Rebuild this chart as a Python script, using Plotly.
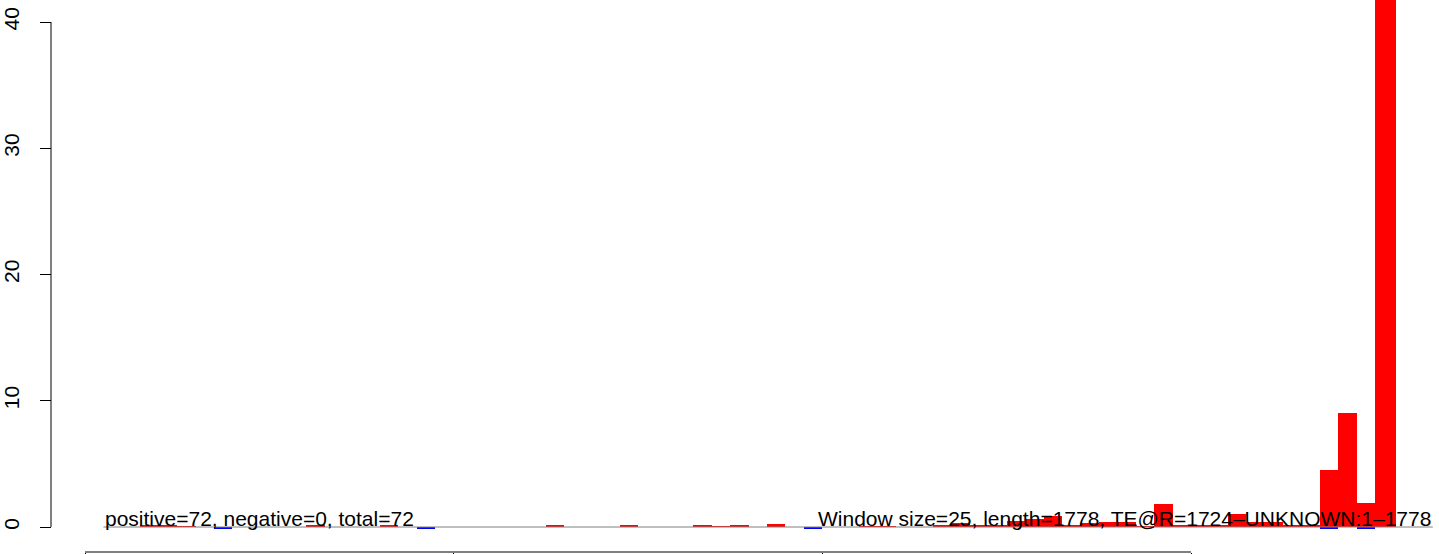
import plotly.graph_objects as go

# ---- data ----
window_size = 25
seq_length = 1778
# positive (red) window scores, one per window (71 windows)
positive = [0, 0, 0, 0.1, 0.1, 0.05, 0, 0, 0, 0,
            0, 0, 0.08, 0, 0, 0, 0.12, 0, 0, 0,
            0, 0, 0, 0, 0, 0.15, 0, 0, 0, 0.15,
            0, 0, 0, 0.08, 0.06, 0.15, 0, 0.2, 0, 0,
            0, 0, 0.06, 0.06, 0, 0, 0.15, 0.3, 0.1, 0.1,
            0.45, 0.65, 0.9, 0.15, 0.35, 0.4, 0.4, 0.05, 1.8, 0.15,
            0.15, 0.12, 1.0, 0.4, 0.4, 0.1, 0.1, 4.5, 9.05, 1.9,
            55.0]
# negative (blue) window scores
negative = [0] * 71
for idx in (7, 18, 39, 67, 69):
    negative[idx] = -0.12

y_ticks = [0, 10, 20, 30, 40]
x_ticks = [0, 500, 1000, 1500]
left_label = "positive=72, negative=0, total=72"
right_label = "Window size=25, length=1778, TE@R=1724\u2013UNKNOWN:1\u20131778"
baseline_start = 25
baseline_end = 1828

# ---- window geometry ----
n = len(positive)
starts = [i * window_size for i in range(n)]
ends = [min((i + 1) * window_size, seq_length) for i in range(n)]
ends[-1] = seq_length
centers = [(s + e) / 2 for s, e in zip(starts, ends)]
widths = [e - s for s, e in zip(starts, ends)]

W, H = 1439, 554
px_per_pos = (1191 - 85) / 1500.0
x0_pos = -85 / px_per_pos
x1_pos = (W - 85) / px_per_pos
px_per_val = (527 - 22) / 40.0
y_top = 527 / px_per_val
y_bot = -(H - 527) / px_per_val

FONT = "Liberation Sans, Arial, sans-serif"

fig = go.Figure()
fig.add_trace(go.Bar(x=centers, y=positive, width=widths,
                     marker=dict(color="#FF0000", line=dict(width=0)),
                     showlegend=False))
fig.add_trace(go.Bar(x=centers, y=negative, width=widths,
                     marker=dict(color="#0000FF", line=dict(width=0)),
                     showlegend=False))

# baseline (gray)
fig.add_shape(type="line", xref="x", yref="y", x0=baseline_start, x1=baseline_end,
              y0=0, y1=0, line=dict(color="#808080", width=1), layer="above")
# y axis line 0..40
fig.add_shape(type="line", xref="paper", yref="y", x0=51 / W, x1=51 / W,
              y0=y_ticks[0], y1=y_ticks[-1], line=dict(color="black", width=1))
# bottom axis line
fig.add_shape(type="line", xref="x", yref="paper", x0=x_ticks[0], x1=x_ticks[-1],
              y0=2 / H, y1=2 / H, line=dict(color="black", width=1))

fig.add_annotation(x=baseline_start, y=0, xref="x", yref="y", text=left_label,
                   showarrow=False, xanchor="left", yanchor="bottom", yshift=-5,
                   font=dict(family=FONT, size=21, color="black"))
fig.add_annotation(x=baseline_end, y=0, xref="x", yref="y", text=right_label,
                   showarrow=False, xanchor="right", yanchor="bottom", yshift=-5,
                   font=dict(family=FONT, size=21, color="black"))

fig.update_layout(
    width=W, height=H,
    margin=dict(l=0, r=0, t=0, b=0, pad=0, autoexpand=False),
    paper_bgcolor="white", plot_bgcolor="white",
    barmode="overlay", bargap=0,
    xaxis=dict(range=[x0_pos, x1_pos], showgrid=False, zeroline=False,
               showline=False, tickvals=x_ticks, showticklabels=False,
               ticks="outside", ticklen=2, tickcolor="black", tickwidth=1,
               anchor="free", position=2 / H, automargin=False),
    yaxis=dict(range=[y_bot, y_top], showgrid=False, zeroline=False,
               showline=False, tickvals=y_ticks, ticks="outside", ticklen=11,
               tickcolor="black", tickwidth=1, tickangle=-90,
               tickfont=dict(family=FONT, size=21, color="black"),
               anchor="free", position=51 / W, ticklabelstandoff=13,
               automargin=False),
)

fig.write_html("out.html", config={"displayModeBar": False},
               post_script="document.body.style.margin='0';document.body.style.overflow='hidden';window.dispatchEvent(new Event('resize'));")
